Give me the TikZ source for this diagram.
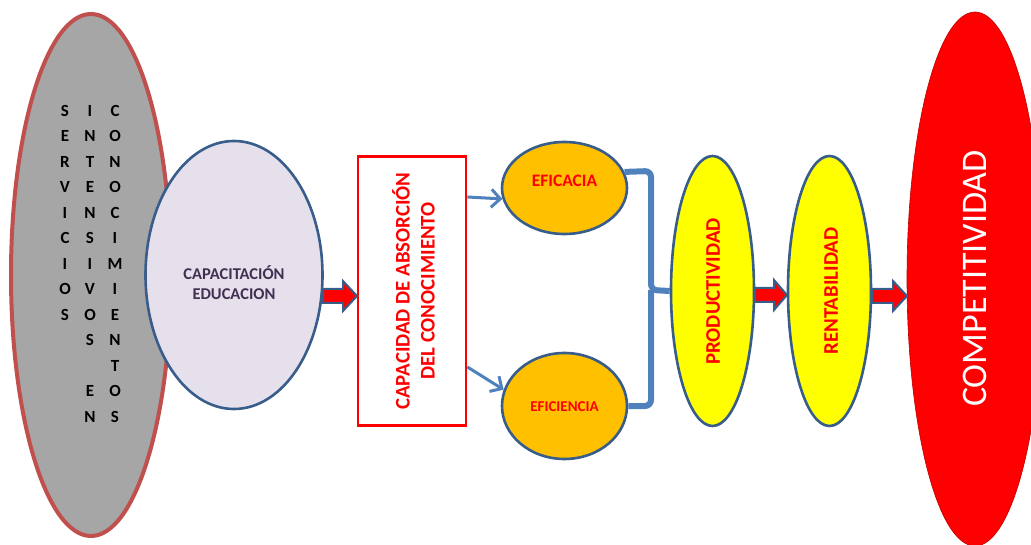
\documentclass[tikz,border=0pt]{standalone}
\usepackage{fontspec}
\setmainfont{Carlito}
\usetikzlibrary{arrows.meta,shapes.geometric}
\definecolor{bordblue}{HTML}{385D8A}
\definecolor{linkblue}{HTML}{4F81BD}
\definecolor{leftgray}{HTML}{A6A6A6}
\definecolor{leftred}{HTML}{C0504D}
\definecolor{lavender}{HTML}{E6E0EC}
\definecolor{darkpurple}{HTML}{403152}
\definecolor{orange}{HTML}{FFC000}
\definecolor{pureyellow}{HTML}{FFFF00}
\definecolor{purered}{HTML}{FF0000}
\newcommand{\fatarrow}[4]{% x1, xhead, x2, y
  \draw[fatarr] (#1,#4-7) -- (#2,#4-7) -- (#2,#4-15) -- (#3,#4) -- (#2,#4+15) -- (#2,#4+7) -- (#1,#4+7) -- cycle;}
\tikzset{
  ell/.style={ellipse, draw=bordblue, line width=2.6pt, inner sep=0pt},
  letter/.style={font=\bfseries\fontsize{17}{20}\selectfont, text=black, inner sep=0pt},
  lbl/.style={font=\bfseries, text=purered, inner sep=0pt},
  thinarr/.style={draw=linkblue, line width=3pt, -{Straight Barb[length=9pt,width=18pt]}},
  bracket/.style={draw=linkblue, line width=6pt, rounded corners=6pt},
  fatarr/.style={fill=purered, draw=bordblue, line width=2pt, line join=miter},
}
\begin{document}
\begin{tikzpicture}[x=1pt,y=-1pt]
\useasboundingbox (0,0) rectangle (1031,545);
\clip (0,0) rectangle (1031,545);
% left big ellipse
\node[ellipse, fill=leftgray, draw=leftred, line width=4pt, minimum width=160pt, minimum height=522pt] (serv) at (91,275) {};
\foreach \l [count=\i] in {S,E,R,V,I,C,I,O,S}
  \node[letter] (sa\i) at (65,{110.7+25.5*(\i-1)}) {\l};
\foreach \l [count=\i] in {I,N,T,E,N,S,I,V,O,S,{},E,N}
  \node[letter] (sb\i) at (90,{110.7+25.5*(\i-1)}) {\l};
\foreach \l [count=\i] in {C,O,N,O,C,I,M,I,E,N,T,O,S}
  \node[letter] (sc\i) at (115,{110.7+25.5*(\i-1)}) {\l};
% capacitacion
\node[ell, fill=lavender, minimum width=177pt, minimum height=268pt] (cap) at (234,275) {};
\node[font=\bfseries\fontsize{16.5}{20}\selectfont, text=darkpurple, align=center, inner sep=0pt] (captxt) at (234,283) {CAPACITACIÓN\\EDUCACION};
% box
\node[draw=purered, line width=2.8pt, fill=white, minimum width=108pt, minimum height=269pt, inner sep=0pt] (box) at (412,291) {};
\node[lbl, rotate=90, align=center, font=\bfseries\fontsize{20.8}{25}\selectfont] (boxtxt) at (413.5,291) {CAPACIDAD DE ABSORCIÓN\\DEL CONOCIMIENTO};
% eficacia / eficiencia
\node[ell, fill=orange, minimum width=125pt, minimum height=92pt] (efa) at (564.5,188) {};
\node[lbl, font=\bfseries\fontsize{17.5}{20}\selectfont] (efatxt) at (564.5,181) {EFICACIA};
\node[ell, fill=orange, minimum width=125pt, minimum height=106pt] (efi) at (564.5,406) {};
\node[lbl, font=\bfseries\fontsize{15}{17}\selectfont] (efitxt) at (564.5,407) {EFICIENCIA};
% productividad / rentabilidad
\node[ell, fill=pureyellow, minimum width=83pt, minimum height=270pt] (prod) at (712.5,291) {};
\node[lbl, rotate=90, font=\bfseries\fontsize{20.8}{24}\selectfont] (prodtxt) at (713,291.5) {PRODUCTIVIDAD};
\node[ell, fill=pureyellow, minimum width=83pt, minimum height=270pt] (rent) at (829.5,291) {};
\node[lbl, rotate=90, font=\bfseries\fontsize{20.8}{24}\selectfont] (renttxt) at (831,291) {RENTABILIDAD};
% competitividad
\node[ellipse, fill=purered, draw=purered!75!black, line width=0.6pt, minimum width=136pt, minimum height=534pt, inner sep=0pt] (comp) at (975,279) {};
\node[rotate=90, text=white, font=\fontsize{36}{40}\selectfont, inner sep=0pt] (comptxt) at (975,278.5) {COMPETITIVIDAD};
% thin arrows
\draw[thinarr] ([yshift=94pt]box.east) -- (efa.190);
\draw[thinarr] ([yshift=-76pt]box.east) -- (efi.165);
% bracket
\coordinate (bt) at (651,171);
\coordinate (bm) at (651,290);
\coordinate (bb) at (651,406);
\draw[bracket] (efa.15) -- (bt) -- (bm) -- (prod.west);
\draw[bracket] (efi.east) -- (bb) -- (bm);
% block arrows
\fatarrow{323}{343}{357}{296}
\fatarrow{755}{774}{787}{295}
\fatarrow{872}{893}{907}{296}
\end{tikzpicture}
\end{document}
